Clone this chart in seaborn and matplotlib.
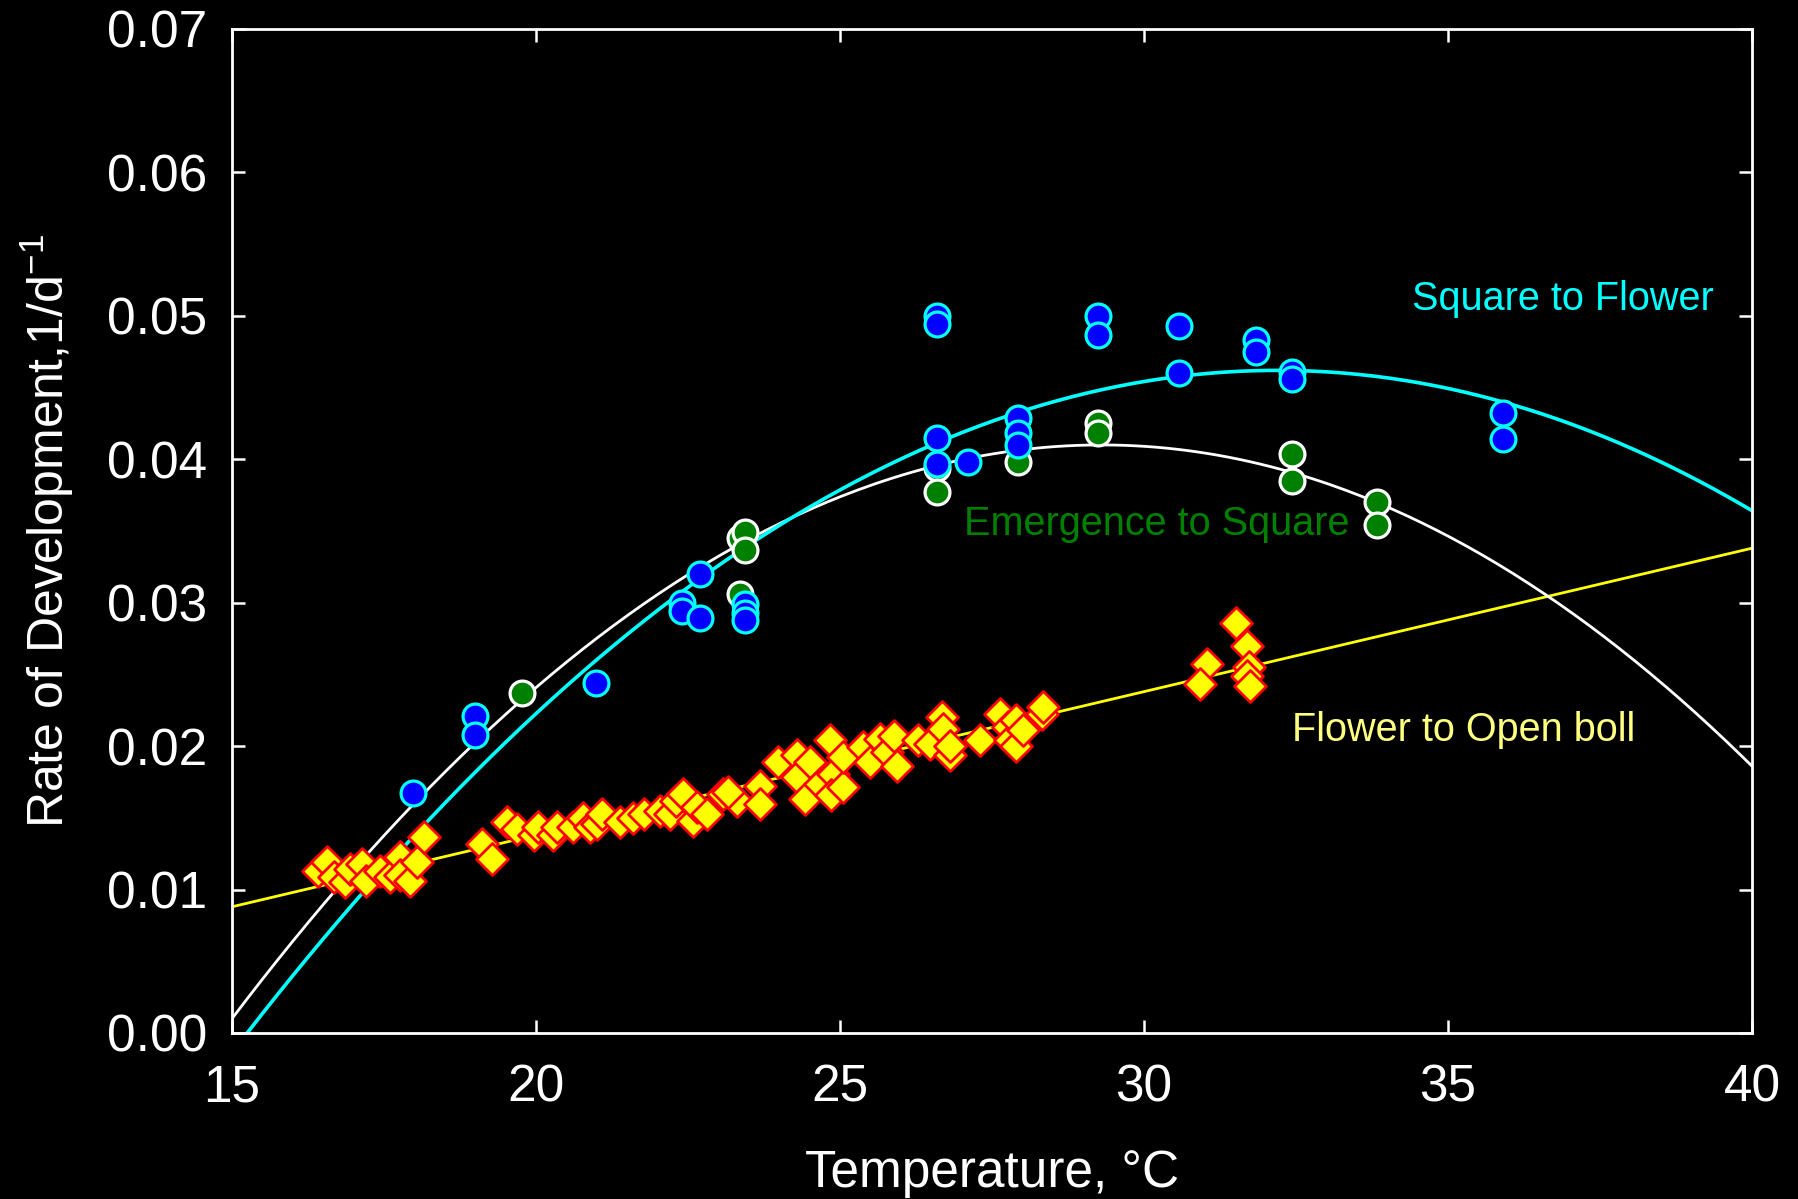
import numpy as np
import pandas as pd
import matplotlib
matplotlib.use("Agg")
import matplotlib.pyplot as plt
import seaborn as sns

# ---------------- data ----------------
sf_temp = [17.98, 19.0, 19.0, 20.98, 22.4, 22.4, 22.7, 22.7, 23.43, 23.43, 23.43,
           26.6, 26.6, 26.6, 26.6, 27.1, 27.92, 27.92, 27.92, 29.25, 29.25,
           30.58, 30.58, 31.85, 31.85, 32.43, 32.43, 35.9, 35.9]
sf_rate = [0.0167, 0.0221, 0.0208, 0.0244, 0.0300, 0.0294, 0.0320, 0.0289, 0.0299, 0.0293, 0.0288,
           0.0500, 0.0494, 0.0415, 0.0397, 0.0398, 0.0429, 0.0418, 0.0410, 0.0500, 0.0487,
           0.0493, 0.0460, 0.0483, 0.0475, 0.0461, 0.0456, 0.0432, 0.0414]

es_temp = [19.77, 23.36, 23.43, 23.43, 23.36, 26.6, 26.6, 27.92, 29.25, 29.25,
           32.43, 32.43, 33.83, 33.83]
es_rate = [0.0237, 0.0345, 0.0349, 0.0337, 0.0306, 0.0394, 0.0377, 0.0398, 0.0425, 0.0418,
           0.0404, 0.0385, 0.0370, 0.0354]

fo_temp = [16.42, 16.56, 16.67, 16.86, 16.94, 17.13, 17.21, 17.43, 17.60, 17.76, 17.76, 17.93,
           18.04, 18.15, 19.11, 19.27, 19.52, 19.68, 19.96, 20.04, 20.28, 20.34, 20.61, 20.78,
           20.89, 21.00, 21.08, 21.38, 21.60, 21.77, 22.04, 22.20, 22.31, 22.42, 22.59, 22.64,
           22.81, 23.08, 23.30, 23.15,
           23.68, 23.68, 23.98, 24.29, 24.29, 24.42, 24.50, 24.67, 24.83, 24.89, 24.86, 25.05,
           25.05, 25.38, 25.49, 25.66, 25.77, 25.88, 25.93, 26.29, 26.48, 26.67, 26.70, 26.81,
           26.81, 27.30, 27.63, 27.77, 27.79, 27.90, 27.90, 28.01, 28.32, 28.34,
           31.52, 31.69, 31.03, 30.92, 31.72, 31.69, 31.74]
fo_rate = [0.01132, 0.0119, 0.01086, 0.0105, 0.01144, 0.0118, 0.01063, 0.0113, 0.01086, 0.01225, 0.0110, 0.0106,
           0.0119, 0.01365, 0.0132, 0.01214, 0.0147, 0.01423, 0.01377, 0.01435, 0.01377, 0.01435, 0.01435, 0.0150,
           0.01435, 0.01458, 0.01528, 0.0147, 0.0150, 0.01528, 0.0155, 0.01528, 0.0162, 0.01667, 0.0148, 0.01574,
           0.01528, 0.01667, 0.0162, 0.0168,
           0.01725, 0.0160, 0.01888, 0.01935, 0.01783, 0.01633, 0.01888, 0.01737, 0.0204, 0.01807, 0.01656, 0.01714,
           0.01923, 0.01993, 0.01888, 0.0205, 0.01958, 0.02074, 0.01865, 0.0204, 0.02016, 0.0220, 0.0212, 0.01935,
           0.0200, 0.0204, 0.02226, 0.02132, 0.0204, 0.02179, 0.0200, 0.0211, 0.02226, 0.0227,
           0.0286, 0.0270, 0.0257, 0.0243, 0.0255, 0.0249, 0.0242]

# fitted curves: quadratic in vertex form [x_peak, y_peak, curvature]
sf_fit = [32.2, 0.0462, 1.608e-4]
es_fit = [29.3, 0.0410, 1.956e-4]
# linear fit [intercept at 15 C, slope]
fo_fit = [0.0088, 0.0010]

x_ticks = [15, 20, 25, 30, 35, 40]
y_ticks = [0.00, 0.01, 0.02, 0.03, 0.04, 0.05, 0.06, 0.07]

# ---------------- style ----------------
sns.set_theme(style="ticks")
FONT = ["Liberation Sans", "DejaVu Sans"]
plt.rcParams["font.family"] = FONT
plt.rcParams["mathtext.fontset"] = "custom"
plt.rcParams["mathtext.rm"] = "Liberation Sans"
plt.rcParams["mathtext.it"] = "Liberation Sans"
plt.rcParams["mathtext.sf"] = "Liberation Sans"
plt.rcParams["figure.facecolor"] = "black"
plt.rcParams["axes.facecolor"] = "black"

fig = plt.figure(figsize=(17.99, 11.99), dpi=100)
ax = fig.add_axes([232 / 1799, 1 - 1033 / 1199, (1752 - 232) / 1799, (1033 - 29) / 1199])
ax.set_facecolor("black")

tgrid = np.linspace(15, 40, 300)
curves = pd.DataFrame({
    "t": tgrid,
    "sf": sf_fit[1] - sf_fit[2] * (tgrid - sf_fit[0]) ** 2,
    "es": es_fit[1] - es_fit[2] * (tgrid - es_fit[0]) ** 2,
    "fo": fo_fit[0] + fo_fit[1] * (tgrid - 15),
})

sns.lineplot(data=curves, x="t", y="fo", ax=ax, color="#FFFF00", lw=2.0, zorder=1)
sns.lineplot(data=curves, x="t", y="es", ax=ax, color="white", lw=2.0, zorder=1)
sns.lineplot(data=curves, x="t", y="sf", ax=ax, color="#00FFFF", lw=2.6, zorder=1)

es_df = pd.DataFrame({"t": es_temp, "r": es_rate})
sf_df = pd.DataFrame({"t": sf_temp, "r": sf_rate})
fo_df = pd.DataFrame({"t": fo_temp, "r": fo_rate})

sns.scatterplot(data=fo_df, x="t", y="r", ax=ax, marker="D", s=265, color="#FFFF00",
                edgecolor="#FF0000", linewidth=2.0, zorder=3)
sns.scatterplot(data=es_df, x="t", y="r", ax=ax, marker="o", s=320, color="#008000",
                edgecolor="white", linewidth=2.3, zorder=4)
sns.scatterplot(data=sf_df, x="t", y="r", ax=ax, marker="o", s=320, color="#0000FF",
                edgecolor="#00FFFF", linewidth=2.3, zorder=5)

ax.set_xlim(15, 40)
ax.set_ylim(0, 0.07)
ax.set_xticks(x_ticks)
ax.set_yticks(y_ticks)
ax.set_xticklabels([str(v) for v in x_ticks])
ax.set_yticklabels([f"{v:.2f}" for v in y_ticks])

for s in ax.spines.values():
    s.set_visible(True)
    s.set_color("white")
    s.set_linewidth(2.0)

ax.tick_params(axis="both", which="both", direction="in", length=9.5, width=1.8,
               colors="white", labelsize=37, top=True, right=True)
ax.tick_params(axis="y", pad=18)
ax.tick_params(axis="x", pad=22)

ax.set_xlabel("Temperature, °C", color="white", fontsize=37, labelpad=26)
ax.set_ylabel(r"Rate of Development,1/d$^{\mathsf{-1}}$", color="white", fontsize=36, labelpad=22)

ax.text(34.41, 0.0512, "Square to Flower", color="#00FFFF", fontsize=28.5, va="center", ha="left")
ax.text(27.04, 0.03546, "Emergence to Square", color="#008000", fontsize=28.5, va="center", ha="left")
ax.text(32.43, 0.0211, "Flower to Open boll", color="#FFFF80", fontsize=28.5, va="center", ha="left")

fig.savefig("out.png", dpi=100, facecolor="black")
